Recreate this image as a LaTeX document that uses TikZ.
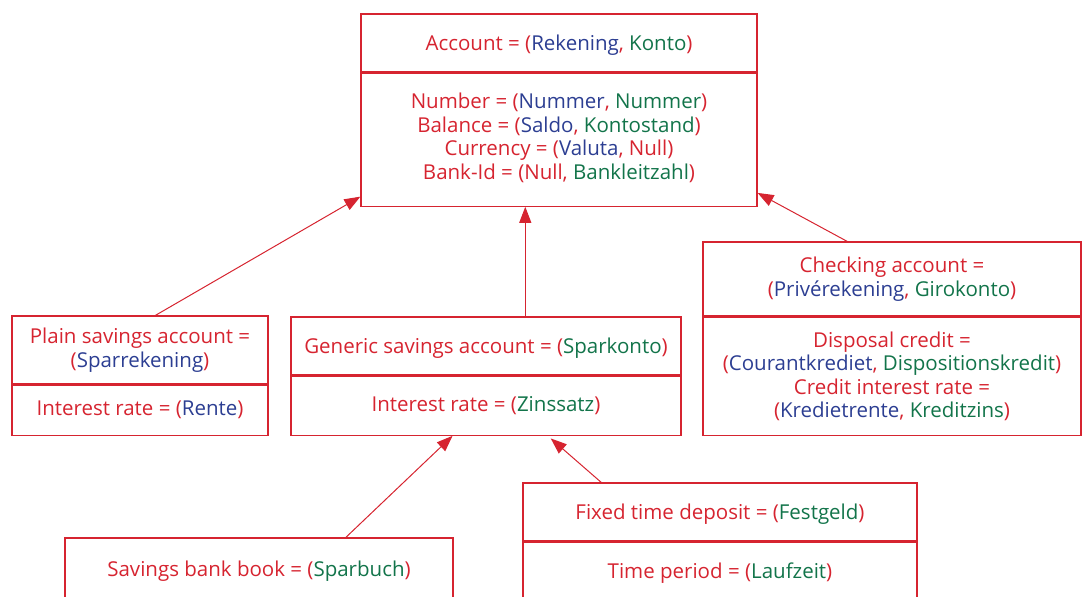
\documentclass[tikz,border=0pt]{standalone}
\usepackage{fontspec}
\setmainfont{Open Sans}
\usetikzlibrary{positioning,arrows.meta}

\definecolor{enred}{RGB}{214,36,48}
\definecolor{nlblue}{RGB}{44,62,146}
\definecolor{degreen}{RGB}{18,116,74}
\newcommand{\nl}[1]{\textcolor{nlblue}{#1}}
\newcommand{\de}[1]{\textcolor{degreen}{#1}}

\tikzset{
    cls/.style={draw=enred, text=enred, line width=0.6pt, align=center, inner sep=0pt,
        font=\fontsize{10.25}{11.75}\selectfont},
    onerow/.style={text depth=0pt},
    isa/.style={draw=enred, line width=0.5pt, -{Triangle[length=8pt,width=6pt]}}
}

\begin{document}
\begin{tikzpicture}[x=0.5pt, y=-0.5pt]
        \useasboundingbox (0,0) rectangle (1087,597);

        % Account
        \node[cls, onerow, minimum width=198pt, minimum height=29pt] (acc) at (559,43) {Account = (\nl{Rekening}, \de{Konto})};
        \node[cls, minimum width=198pt, minimum height=66.5pt, below=0pt of acc] (acca)
            {Number = (\nl{Nummer}, \de{Nummer})\\ Balance = (\nl{Saldo}, \de{Kontostand})\\
             Currency = (\nl{Valuta}, Null)\\ Bank-Id = (Null, \de{Bankleitzahl})\vspace{2pt}};

        % subclasses of account
        \node[cls, minimum width=128pt, minimum height=34pt] (psa) at (140,350) {Plain savings account =\\ (\nl{Sparrekening})};
        \node[cls, minimum width=128pt, minimum height=25pt, below=0pt of psa] (psaa) {Interest rate = (\nl{Rente})};

        \node[cls, onerow, minimum width=195pt, minimum height=29pt] (gsa) at (486,346) {Generic savings account = (\de{Sparkonto})};
        \node[cls, minimum width=195pt, minimum height=29.5pt, below=0pt of gsa] (gsaa) {Interest rate = (\de{Zinssatz})};

        \node[cls, minimum width=189pt, minimum height=37pt] (chk) at (892,279) {Checking account =\\ (\nl{Privérekening}, \de{Girokonto})};
        \node[cls, minimum width=189pt, minimum height=59pt, below=0pt of chk] (chka)
            {Disposal credit =\\ (\nl{Courantkrediet}, \de{Dispositionskredit})\\
             Credit interest rate =\\ (\nl{Kredietrente}, \de{Kreditzins})};

        % subclasses of generic savings account
        \node[cls, onerow, minimum width=194pt, minimum height=31pt] (sbb) at (259,569) {Savings bank book = (\de{Sparbuch})};

        \node[cls, onerow, minimum width=197pt, minimum height=29pt] (ftd) at (720,512) {Fixed time deposit = (\de{Festgeld})};
        \node[cls, minimum width=197pt, minimum height=31pt, below=0pt of ftd] (ftda) {Time period = (\de{Laufzeit})};

        \draw[isa] (psa.66) -- (acca.196);
        \draw[isa] (gsa.37.3) -- (gsa.37.3 |- acca.south);
        \draw[isa] (chk.140) -- (acca.-15.4);
        \draw[isa] (sbb.20.3) -- (gsaa.222.7);
        \draw[isa, shorten >=2pt] (ftd.166.7) -- (gsaa.-26.2);

    \end{tikzpicture}
\end{document}
